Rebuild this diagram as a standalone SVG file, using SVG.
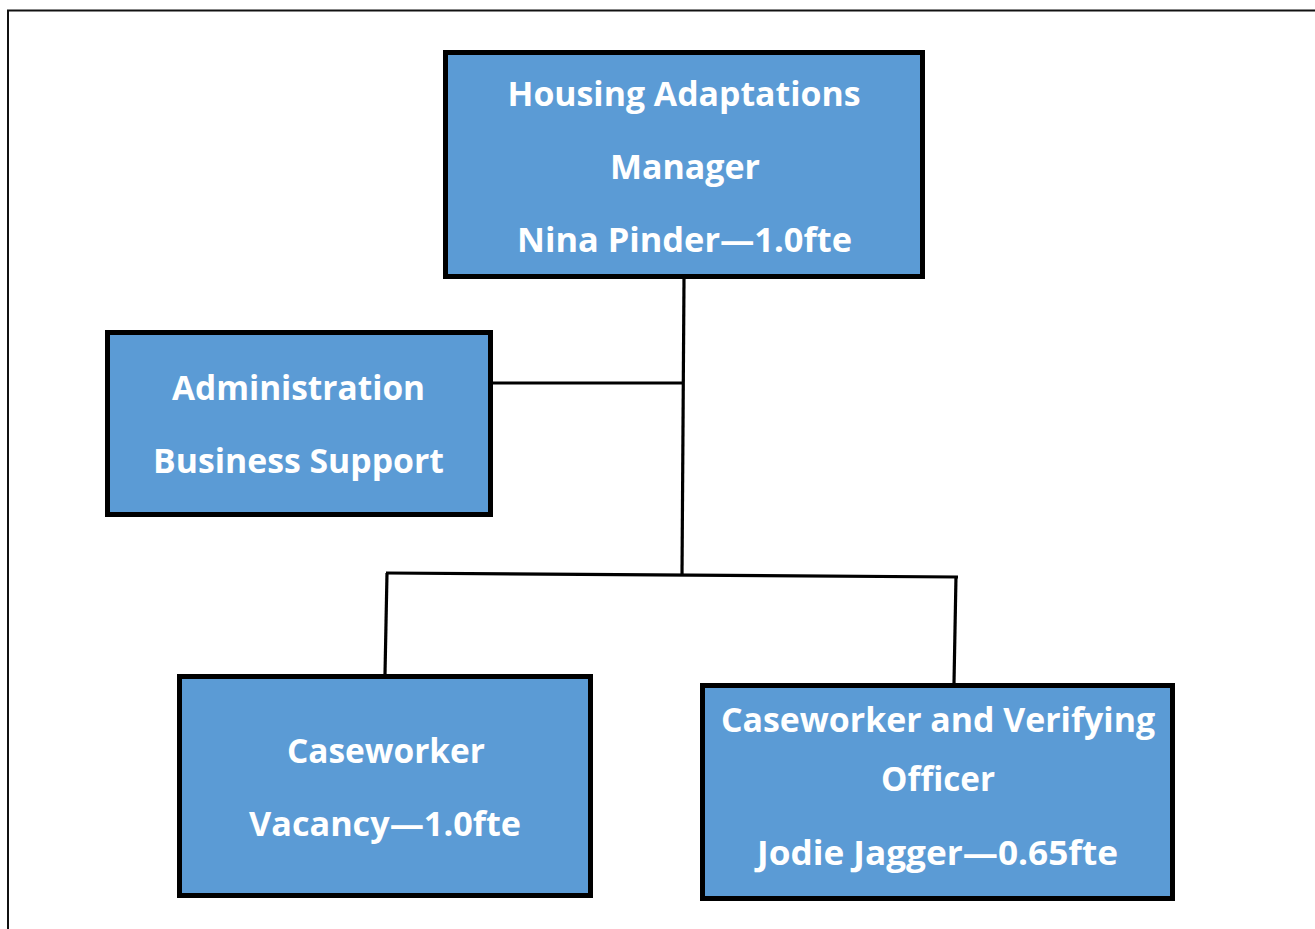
<svg xmlns="http://www.w3.org/2000/svg" width="1315" height="929" viewBox="0 0 1315 929">
<style>
.box{fill:#5B9BD5;stroke:#000;stroke-width:5}
.t{font-family:"Open Sans","Liberation Sans",sans-serif;font-weight:bold;font-size:34px;fill:#fff;text-anchor:middle}
.c{stroke:#000;stroke-width:3.2;fill:none}
.frame{stroke:#111;stroke-width:2;fill:none}
</style>
<rect width="1315" height="929" fill="#fff"/>
<path class="frame" d="M8 929 V10.5 H1315"/>
<g id="connectors">
<path class="c" d="M684 279 L682 576"/>
<path class="c" d="M493 383 H684"/>
<path class="c" d="M386 573 L958 577"/>
<path class="c" d="M387 573 L385 674"/>
<path class="c" d="M956 576 L954 683"/>
</g>
<g id="manager">
<rect class="box" x="445.5" y="52.5" width="477" height="224"/>
<text class="t" x="684" y="106" textLength="353" lengthAdjust="spacingAndGlyphs">Housing Adaptations</text>
<text class="t" x="685" y="179" textLength="150" lengthAdjust="spacingAndGlyphs">Manager</text>
<text class="t" x="684.5" y="252" textLength="335" lengthAdjust="spacingAndGlyphs">Nina Pinder—1.0fte</text>
</g>
<g id="admin">
<rect class="box" x="107.5" y="332.5" width="383" height="182"/>
<text class="t" x="298.5" y="400" textLength="253" lengthAdjust="spacingAndGlyphs">Administration</text>
<text class="t" x="298.5" y="473" textLength="291" lengthAdjust="spacingAndGlyphs">Business Support</text>
</g>
<g id="caseworker">
<rect class="box" x="179.5" y="676.5" width="411" height="219"/>
<text class="t" x="386" y="763" textLength="198" lengthAdjust="spacingAndGlyphs">Caseworker</text>
<text class="t" x="385" y="836" textLength="272" lengthAdjust="spacingAndGlyphs">Vacancy—1.0fte</text>
</g>
<g id="verifying">
<rect class="box" x="702.5" y="685.5" width="470" height="213"/>
<text class="t" x="938" y="732" textLength="434" lengthAdjust="spacingAndGlyphs">Caseworker and Verifying</text>
<text class="t" x="938" y="791" textLength="114" lengthAdjust="spacingAndGlyphs">Officer</text>
<text class="t" x="937.5" y="865" textLength="361" lengthAdjust="spacingAndGlyphs">Jodie Jagger—0.65fte</text>
</g>
</svg>
